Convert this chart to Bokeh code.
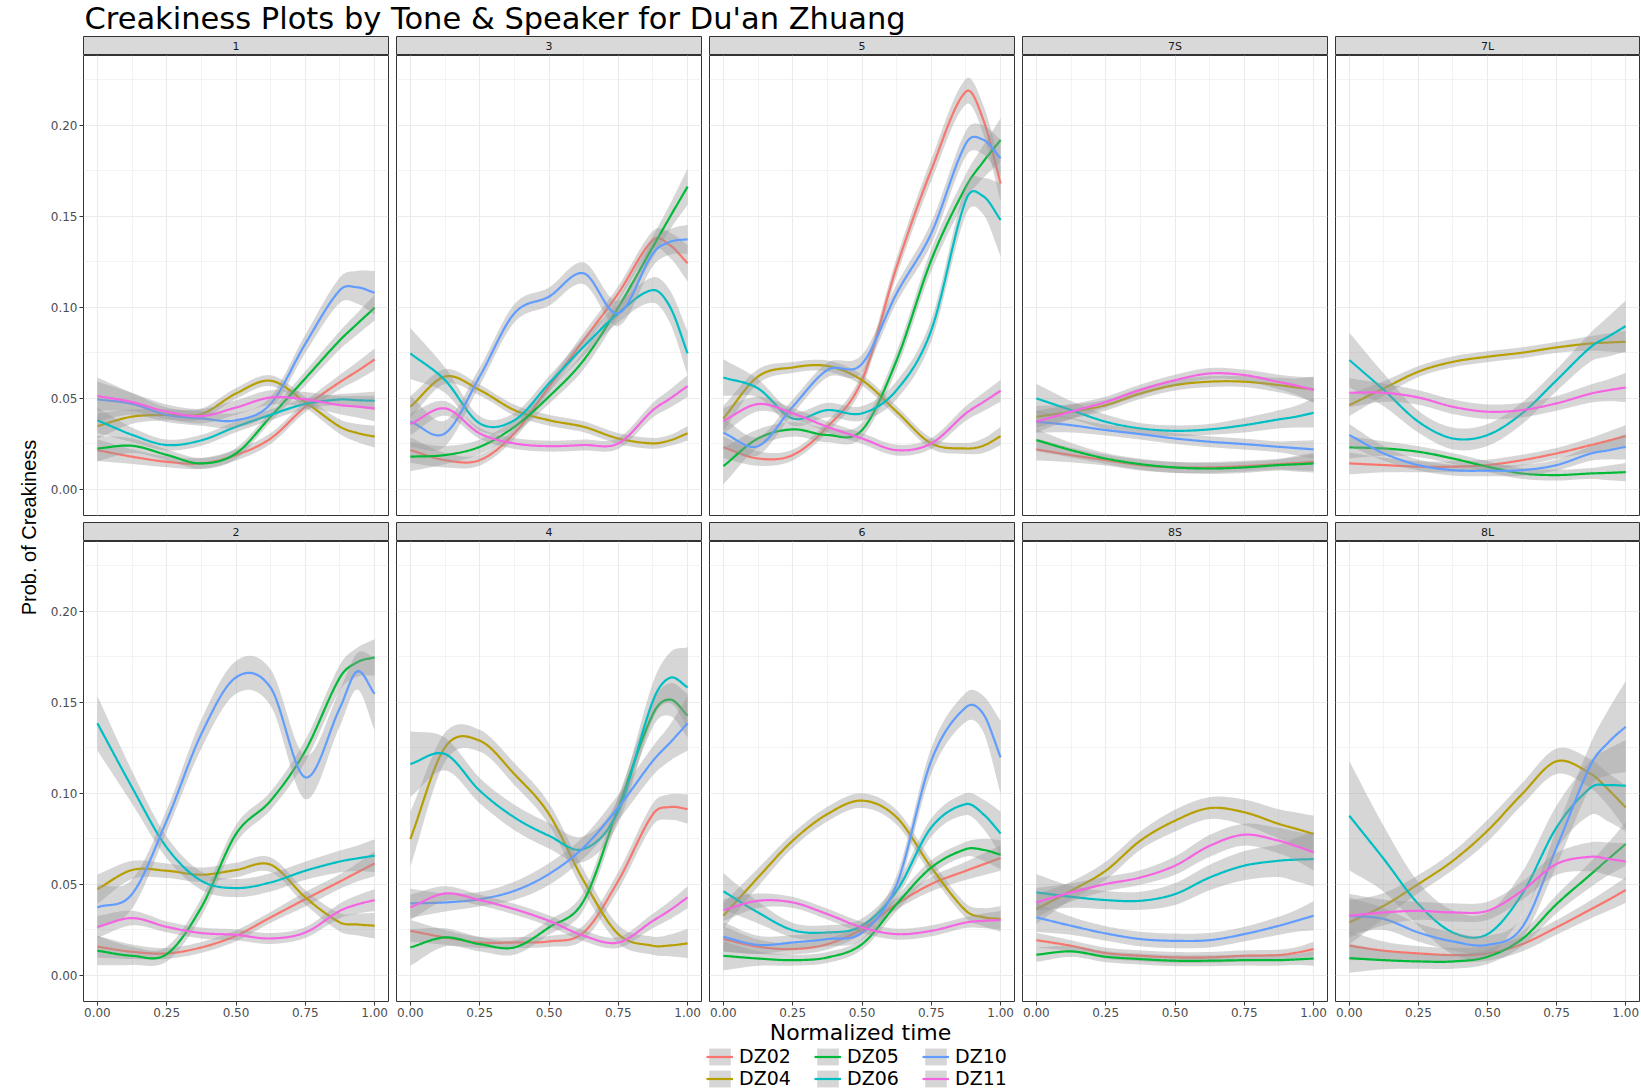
import numpy as np
from bokeh.plotting import figure
from bokeh.models import (Range1d, FixedTicker, NumeralTickFormatter, Label,
                          Legend, LegendItem)
from bokeh.layouts import row, column
from bokeh.embed import file_html
from bokeh.resources import INLINE

# ---------------- data ----------------
TITLE = "Creakiness Plots by Tone & Speaker for Du'an Zhuang"
X_LABEL = "Normalized time"
Y_LABEL = "Prob. of Creakiness"
SPEAKERS = ["DZ02", "DZ04", "DZ05", "DZ06", "DZ10", "DZ11"]
TONES_TOP = ["1", "3", "5", "7S", "7L"]
TONES_BOTTOM = ["2", "4", "6", "8S", "8L"]
KNOTS = [0.0, 0.125, 0.25, 0.375, 0.5, 0.625, 0.75, 0.875, 0.9375, 1.0]
X_TICKS = [0.0, 0.25, 0.5, 0.75, 1.0]
X_MINOR = [0.125, 0.375, 0.625, 0.875]
Y_TICKS = [0.0, 0.05, 0.10, 0.15, 0.20]
Y_MINOR = [0.025, 0.075, 0.125, 0.175, 0.225]

TONE_1 = {
    "DZ02": [0.0216, 0.018, 0.0152, 0.0143, 0.0189, 0.028, 0.0454, 0.059, 0.065, 0.0714],
    "DZ04": [0.0348, 0.040, 0.041, 0.0414, 0.0527, 0.0597, 0.048, 0.0344, 0.031, 0.029],
    "DZ05": [0.0225, 0.024, 0.019, 0.0143, 0.0198, 0.040, 0.061, 0.082, 0.091, 0.0998],
    "DZ06": [0.038, 0.030, 0.0244, 0.027, 0.0344, 0.041, 0.047, 0.0494, 0.049, 0.0487],
    "DZ10": [0.0495, 0.047, 0.041, 0.039, 0.038, 0.047, 0.080, 0.1095, 0.111, 0.108],
    "DZ11": [0.0513, 0.048, 0.0427, 0.0403, 0.045, 0.0505, 0.0495, 0.0463, 0.0455, 0.0445],
}
TONE_3 = {
    "DZ02": [0.0216, 0.0161, 0.0161, 0.0308, 0.0564, 0.082, 0.1077, 0.137, 0.134, 0.1242],
    "DZ04": [0.0454, 0.062, 0.0546, 0.0436, 0.038, 0.0344, 0.028, 0.0253, 0.027, 0.0308],
    "DZ05": [0.018, 0.0189, 0.0234, 0.0344, 0.051, 0.071, 0.100, 0.1333, 0.150, 0.1663],
    "DZ06": [0.0747, 0.060, 0.0363, 0.038, 0.0582, 0.0784, 0.0967, 0.1095, 0.100, 0.0747],
    "DZ10": [0.0372, 0.0308, 0.062, 0.0967, 0.1059, 0.1187, 0.0967, 0.1297, 0.136, 0.1374],
    "DZ11": [0.0359, 0.0445, 0.0308, 0.0253, 0.0238, 0.0244, 0.0253, 0.0436, 0.050, 0.0568],
}
TONE_5 = {
    "DZ02": [0.0231, 0.017, 0.0189, 0.0344, 0.060, 0.1223, 0.1755, 0.2185, 0.203, 0.168],
    "DZ04": [0.039, 0.062, 0.067, 0.0678, 0.060, 0.0427, 0.0253, 0.0225, 0.024, 0.0293],
    "DZ05": [0.0128, 0.028, 0.033, 0.0299, 0.0326, 0.071, 0.126, 0.1663, 0.180, 0.1919],
    "DZ06": [0.0615, 0.0555, 0.039, 0.0436, 0.0418, 0.0546, 0.0875, 0.159, 0.161, 0.148],
    "DZ10": [0.0311, 0.0238, 0.0454, 0.0656, 0.069, 0.1077, 0.1407, 0.190, 0.192, 0.1819],
    "DZ11": [0.0377, 0.0469, 0.0418, 0.0344, 0.028, 0.0216, 0.0253, 0.0418, 0.048, 0.0542],
}
TONE_7S = {
    "DZ02": [0.022, 0.0189, 0.0161, 0.0134, 0.0121, 0.0121, 0.0128, 0.0139, 0.0145, 0.0152],
    "DZ04": [0.0399, 0.0427, 0.0463, 0.0527, 0.0573, 0.0592, 0.0592, 0.0573, 0.056, 0.055],
    "DZ05": [0.0271, 0.0216, 0.017, 0.0139, 0.0121, 0.0115, 0.0121, 0.0134, 0.0138, 0.0143],
    "DZ06": [0.050, 0.0436, 0.0372, 0.0335, 0.0322, 0.033, 0.0353, 0.0385, 0.040, 0.0421],
    "DZ10": [0.0372, 0.0353, 0.0326, 0.0304, 0.028, 0.0262, 0.0249, 0.0234, 0.0227, 0.022],
    "DZ11": [0.0372, 0.0427, 0.048, 0.0546, 0.060, 0.0637, 0.0628, 0.059, 0.057, 0.0546],
}
TONE_7L = {
    "DZ02": [0.0143, 0.0134, 0.0125, 0.0125, 0.0134, 0.0161, 0.0198, 0.0244, 0.0268, 0.0293],
    "DZ04": [0.0463, 0.0555, 0.0647, 0.0701, 0.0729, 0.0751, 0.078, 0.0802, 0.0807, 0.0811],
    "DZ05": [0.0231, 0.0225, 0.0207, 0.017, 0.0125, 0.0088, 0.0079, 0.0088, 0.0091, 0.0095],
    "DZ06": [0.0711, 0.0546, 0.0372, 0.028, 0.0299, 0.0418, 0.060, 0.0784, 0.084, 0.0897],
    "DZ10": [0.0299, 0.0198, 0.0134, 0.0106, 0.0103, 0.0106, 0.0134, 0.0198, 0.0215, 0.0234],
    "DZ11": [0.0531, 0.0531, 0.0505, 0.0454, 0.0427, 0.0436, 0.0473, 0.0527, 0.0545, 0.056],
}
TONE_2 = {
    "DZ02": [0.0158, 0.013, 0.0121, 0.0154, 0.0218, 0.0319, 0.0419, 0.0516, 0.0566, 0.0615],
    "DZ04": [0.0474, 0.0579, 0.0575, 0.0553, 0.0579, 0.0608, 0.0429, 0.0291, 0.028, 0.0273],
    "DZ05": [0.0136, 0.0108, 0.0117, 0.0374, 0.0777, 0.096, 0.1234, 0.1637, 0.172, 0.1747],
    "DZ06": [0.1385, 0.1033, 0.0703, 0.052, 0.048, 0.0511, 0.0575, 0.0626, 0.0643, 0.0658],
    "DZ10": [0.0374, 0.0447, 0.085, 0.1326, 0.1637, 0.158, 0.1088, 0.147, 0.167, 0.1546],
    "DZ11": [0.0267, 0.0315, 0.0267, 0.0233, 0.0223, 0.0203, 0.0236, 0.0355, 0.039, 0.0414],
}
TONE_4 = {
    "DZ02": [0.0245, 0.0209, 0.0181, 0.0181, 0.0187, 0.0236, 0.052, 0.0886, 0.0925, 0.0914],
    "DZ04": [0.0749, 0.1253, 0.1289, 0.1106, 0.0886, 0.052, 0.0227, 0.0163, 0.0165, 0.0176],
    "DZ05": [0.0154, 0.0209, 0.0172, 0.0154, 0.0264, 0.041, 0.0923, 0.1436, 0.1515, 0.1427],
    "DZ06": [0.1161, 0.1216, 0.1015, 0.0868, 0.0767, 0.0694, 0.0905, 0.1509, 0.1635, 0.1582],
    "DZ10": [0.0396, 0.0401, 0.0419, 0.0465, 0.0557, 0.0703, 0.0923, 0.1179, 0.128, 0.1385],
    "DZ11": [0.0374, 0.045, 0.0414, 0.0364, 0.030, 0.0218, 0.0181, 0.030, 0.036, 0.0429],
}
TONE_6 = {
    "DZ02": [0.020, 0.0158, 0.0145, 0.0172, 0.0255, 0.0392, 0.0502, 0.0575, 0.061, 0.0645],
    "DZ04": [0.0328, 0.0538, 0.074, 0.0886, 0.096, 0.0868, 0.0593, 0.0355, 0.032, 0.031],
    "DZ05": [0.0108, 0.0093, 0.0084, 0.0099, 0.0172, 0.0392, 0.0593, 0.0694, 0.069, 0.0663],
    "DZ06": [0.0462, 0.0346, 0.0249, 0.0236, 0.0273, 0.0465, 0.0813, 0.0941, 0.0886, 0.078],
    "DZ10": [0.0212, 0.0168, 0.0181, 0.020, 0.0236, 0.050, 0.118, 0.1473, 0.1436, 0.1198],
    "DZ11": [0.0359, 0.041, 0.0401, 0.0337, 0.0264, 0.0227, 0.0245, 0.0291, 0.030, 0.0304],
}
TONE_8S = {
    "DZ02": [0.0194, 0.0163, 0.0123, 0.0108, 0.0099, 0.0099, 0.0108, 0.0112, 0.0125, 0.0145],
    "DZ04": [0.0364, 0.0465, 0.0575, 0.074, 0.085, 0.0919, 0.0896, 0.0832, 0.0805, 0.0777],
    "DZ05": [0.0114, 0.0132, 0.0103, 0.009, 0.0081, 0.0081, 0.0084, 0.0084, 0.0088, 0.0093],
    "DZ06": [0.0456, 0.0432, 0.0414, 0.041, 0.0447, 0.0538, 0.0603, 0.063, 0.0636, 0.0639],
    "DZ10": [0.0319, 0.0273, 0.0231, 0.020, 0.019, 0.0194, 0.0227, 0.0273, 0.030, 0.0328],
    "DZ11": [0.0401, 0.0456, 0.0502, 0.0538, 0.0603, 0.0712, 0.0773, 0.074, 0.071, 0.0676],
}
TONE_8L = {
    "DZ02": [0.0163, 0.0136, 0.0121, 0.0112, 0.0121, 0.0172, 0.0264, 0.0364, 0.0415, 0.0469],
    "DZ04": [0.0291, 0.0383, 0.0502, 0.063, 0.0795, 0.0996, 0.1176, 0.1106, 0.102, 0.0923],
    "DZ05": [0.0095, 0.0084, 0.0077, 0.0077, 0.0103, 0.020, 0.0392, 0.0557, 0.064, 0.0722],
    "DZ06": [0.0877, 0.0639, 0.0392, 0.0236, 0.0227, 0.0447, 0.0813, 0.1033, 0.1045, 0.1042],
    "DZ10": [0.0328, 0.031, 0.0236, 0.0187, 0.0168, 0.0264, 0.0703, 0.1161, 0.128, 0.1366],
    "DZ11": [0.0328, 0.0346, 0.0355, 0.0346, 0.0355, 0.0465, 0.0612, 0.0652, 0.064, 0.0626],
}

# half-widths of the confidence ribbons, in thousandths
SE_1 = {
    "DZ02": [6, 4, 3, 3, 3, 3, 3, 4, 5, 6],
    "DZ04": [7, 4, 3, 3, 3, 3, 3, 4, 5, 6],
    "DZ05": [7, 4, 3, 3, 3, 3, 4, 5, 6, 7],
    "DZ06": [7, 4, 3, 3, 3, 3, 3, 3, 4, 5],
    "DZ10": [12, 6, 4, 4, 4, 4, 5, 7, 9, 12],
    "DZ11": [8, 5, 4, 4, 4, 4, 4, 5, 6, 7],
}
SE_3 = {
    "DZ02": [7, 4, 3, 3, 3, 4, 4, 5, 7, 10],
    "DZ04": [6, 4, 3, 3, 3, 3, 3, 3, 3, 4],
    "DZ05": [8, 5, 4, 4, 4, 5, 5, 6, 7, 10],
    "DZ06": [14, 7, 4, 4, 4, 5, 5, 7, 9, 12],
    "DZ10": [14, 7, 5, 5, 5, 6, 7, 7, 7, 8],
    "DZ11": [6, 4, 3, 3, 3, 3, 3, 4, 5, 6],
}
SE_5 = {
    "DZ02": [6, 4, 3, 3, 4, 5, 6, 7, 8, 10],
    "DZ04": [7, 4, 3, 3, 3, 3, 3, 3, 4, 5],
    "DZ05": [10, 5, 4, 4, 4, 5, 6, 7, 9, 12],
    "DZ06": [10, 5, 4, 4, 4, 5, 6, 8, 10, 20],
    "DZ10": [8, 5, 4, 4, 5, 5, 6, 7, 8, 10],
    "DZ11": [7, 4, 3, 3, 3, 3, 3, 4, 5, 6],
}
SE_7S = {
    "DZ02": [6, 4, 3, 3, 3, 3, 3, 3, 4, 5],
    "DZ04": [6, 4, 3, 3, 3, 3, 3, 4, 5, 7],
    "DZ05": [6, 4, 3, 3, 3, 3, 3, 3, 4, 5],
    "DZ06": [8, 5, 4, 3, 3, 3, 4, 5, 6, 8],
    "DZ10": [6, 4, 3, 3, 3, 3, 3, 3, 4, 5],
    "DZ11": [6, 4, 3, 3, 3, 3, 3, 4, 5, 7],
}
SE_7L = {
    "DZ02": [6, 4, 3, 3, 3, 3, 3, 4, 5, 6],
    "DZ04": [6, 4, 3, 3, 3, 3, 3, 4, 5, 6],
    "DZ05": [6, 4, 3, 3, 3, 3, 3, 3, 4, 5],
    "DZ06": [15, 9, 6, 6, 6, 6, 6, 8, 11, 14],
    "DZ10": [6, 4, 3, 3, 3, 3, 3, 4, 5, 7],
    "DZ11": [8, 5, 4, 4, 4, 4, 4, 5, 6, 8],
}
SE_2 = {
    "DZ02": [6, 4, 3, 3, 3, 3, 4, 4, 5, 7],
    "DZ04": [8, 5, 4, 4, 4, 4, 4, 5, 6, 7],
    "DZ05": [8, 5, 4, 5, 5, 5, 6, 7, 8, 10],
    "DZ06": [15, 9, 6, 5, 5, 5, 5, 6, 7, 9],
    "DZ10": [12, 8, 6, 8, 9, 10, 12, 10, 10, 20],
    "DZ11": [6, 4, 3, 3, 3, 3, 3, 4, 5, 6],
}
SE_4 = {
    "DZ02": [6, 4, 3, 3, 3, 4, 5, 6, 7, 8],
    "DZ04": [15, 8, 6, 6, 6, 6, 5, 5, 6, 8],
    "DZ05": [10, 5, 4, 4, 4, 5, 6, 7, 9, 12],
    "DZ06": [18, 9, 7, 7, 7, 7, 7, 10, 14, 22],
    "DZ10": [8, 5, 4, 5, 6, 6, 7, 8, 10, 15],
    "DZ11": [7, 4, 3, 3, 3, 3, 3, 4, 5, 6],
}
SE_6 = {
    "DZ02": [7, 4, 3, 3, 3, 3, 4, 5, 6, 7],
    "DZ04": [7, 5, 4, 4, 4, 4, 4, 4, 5, 7],
    "DZ05": [8, 4, 3, 3, 3, 4, 4, 4, 6, 8],
    "DZ06": [10, 6, 4, 4, 4, 4, 5, 6, 8, 12],
    "DZ10": [8, 5, 4, 4, 4, 5, 7, 8, 10, 20],
    "DZ11": [6, 4, 3, 3, 3, 3, 3, 3, 4, 5],
}
SE_8S = {
    "DZ02": [4, 3, 3, 3, 3, 3, 3, 3, 3, 4],
    "DZ04": [8, 5, 5, 5, 6, 6, 7, 8, 9, 10],
    "DZ05": [4, 3, 3, 3, 3, 3, 3, 3, 3, 4],
    "DZ06": [10, 6, 5, 5, 6, 7, 8, 9, 12, 15],
    "DZ10": [8, 5, 4, 4, 4, 4, 4, 5, 6, 8],
    "DZ11": [8, 5, 4, 4, 5, 6, 6, 7, 8, 10],
}
SE_8L = {
    "DZ02": [8, 5, 4, 4, 4, 4, 4, 5, 6, 7],
    "DZ04": [12, 7, 5, 5, 6, 6, 7, 8, 9, 12],
    "DZ05": [8, 5, 4, 4, 4, 4, 5, 7, 9, 12],
    "DZ06": [30, 18, 12, 12, 12, 12, 12, 15, 20, 25],
    "DZ10": [10, 6, 5, 5, 5, 6, 10, 12, 18, 25],
    "DZ11": [12, 7, 5, 5, 5, 5, 6, 8, 9, 10],
}

CURVES = {"1": TONE_1, "3": TONE_3, "5": TONE_5, "7S": TONE_7S, "7L": TONE_7L,
          "2": TONE_2, "4": TONE_4, "6": TONE_6, "8S": TONE_8S, "8L": TONE_8L}
BANDS = {"1": SE_1, "3": SE_3, "5": SE_5, "7S": SE_7S, "7L": SE_7L,
         "2": SE_2, "4": SE_4, "6": SE_6, "8S": SE_8S, "8L": SE_8L}

# ---------------- styles / geometry ----------------
COLORS = {"DZ02": "#F8766D", "DZ04": "#B79F00", "DZ05": "#00BA38",
          "DZ06": "#00BFC4", "DZ10": "#619CFF", "DZ11": "#F564E3"}
FONT = "DejaVu Sans"
FRAME_H = 460
STRIP_H = 19
ROW_GAP = 7
AXIS_H = 20
TITLE_H = 36
YLAB_W = 47
BOT_H = 69
Y_LO, Y_HI = -0.0143, 0.2383


def smooth(xk, yk, n=240):
    """Cubic Hermite curve through the read knots (for drawing only)."""
    xk = np.asarray(xk, float)
    yk = np.asarray(yk, float)
    m = np.empty_like(yk)
    m[1:-1] = (yk[2:] - yk[:-2]) / (xk[2:] - xk[:-2])
    m[0] = (yk[1] - yk[0]) / (xk[1] - xk[0])
    m[-1] = (yk[-1] - yk[-2]) / (xk[-1] - xk[-2])
    xs = np.linspace(xk[0], xk[-1], n)
    idx = np.clip(np.searchsorted(xk, xs, side="right") - 1, 0, len(xk) - 2)
    h = xk[idx + 1] - xk[idx]
    t = (xs - xk[idx]) / h
    h00 = 2 * t**3 - 3 * t**2 + 1
    h10 = t**3 - 2 * t**2 + t
    h01 = -2 * t**3 + 3 * t**2
    h11 = t**3 - t**2
    ys = h00 * yk[idx] + h10 * h * m[idx] + h01 * yk[idx + 1] + h11 * h * m[idx + 1]
    return xs, ys


def geom(col):
    """(border_left, frame_width, border_right) of a facet column."""
    if col == 0:
        return 36, 305, 4
    if col == 4:
        return 4, 304, 1
    return 4, 305, 4


def make_strip(tone, col):
    left, fw, right = geom(col)
    s = figure(frame_width=fw, frame_height=STRIP_H,
               x_range=Range1d(0, 1), y_range=Range1d(0, 1),
               x_axis_location=None, y_axis_location=None,
               min_border_left=left, min_border_right=right,
               min_border_top=0, min_border_bottom=0,
               toolbar_location=None, output_backend="svg",
               background_fill_color="#D9D9D9", border_fill_color="white",
               outline_line_color="#333333", outline_line_width=1)
    s.grid.visible = False
    s.add_layout(Label(x=0.5, y=0.5, text=tone, text_align="center",
                       text_baseline="middle", text_font=FONT,
                       text_font_size="11px", text_color="#1A1A1A"))
    return s


def make_panel(tone, col, bottom):
    left, fw, right = geom(col)
    p = figure(frame_width=fw, frame_height=FRAME_H,
               x_range=Range1d(-0.05, 1.05), y_range=Range1d(Y_LO, Y_HI),
               x_axis_location="below" if bottom else None,
               y_axis_location="left" if col == 0 else None,
               min_border_left=left, min_border_right=right,
               min_border_top=0, min_border_bottom=AXIS_H if bottom else ROW_GAP,
               toolbar_location=None, output_backend="svg",
               background_fill_color="white", border_fill_color="white",
               outline_line_color="#333333", outline_line_width=1)
    p.xgrid.ticker = FixedTicker(ticks=X_TICKS, minor_ticks=X_MINOR)
    p.ygrid.ticker = FixedTicker(ticks=Y_TICKS, minor_ticks=Y_MINOR)
    for g in (p.xgrid, p.ygrid):
        g.grid_line_color = "#EBEBEB"
        g.grid_line_width = 1.1
        g.minor_grid_line_color = "#EBEBEB"
        g.minor_grid_line_width = 0.6
    axes = []
    if bottom:
        ax = p.xaxis[0]
        ax.ticker = FixedTicker(ticks=X_TICKS)
        axes.append(ax)
    if col == 0:
        ay = p.yaxis[0]
        ay.ticker = FixedTicker(ticks=Y_TICKS)
        axes.append(ay)
    for a in axes:
        a.formatter = NumeralTickFormatter(format="0.00")
        a.axis_line_color = None
        a.major_tick_line_color = "#333333"
        a.major_tick_out = 4
        a.major_tick_in = 0
        a.minor_tick_line_color = None
        a.major_label_text_font = FONT
        a.major_label_text_font_size = "12px"
        a.major_label_text_color = "#4D4D4D"
        a.major_label_standoff = 2

    curves = CURVES[tone]
    bands = BANDS[tone]
    for spk in SPEAKERS:
        xs, ys = smooth(KNOTS, curves[spk])
        _, se = smooth(KNOTS, np.asarray(bands[spk], float) / 1000.0)
        p.varea(x=xs, y1=ys - se, y2=ys + se, fill_color="#999999", fill_alpha=0.4)
        p.line(x=xs, y=ys, line_color=COLORS[spk], line_width=2.2)
    return p


strips_top = [make_strip(t, i) for i, t in enumerate(TONES_TOP)]
panels_top = [make_panel(t, i, False) for i, t in enumerate(TONES_TOP)]
strips_bot = [make_strip(t, i) for i, t in enumerate(TONES_BOTTOM)]
panels_bot = [make_panel(t, i, True) for i, t in enumerate(TONES_BOTTOM)]

TOTAL_W = YLAB_W + sum(sum(geom(c)) for c in range(5))
GRID_H = STRIP_H + FRAME_H + ROW_GAP + STRIP_H + FRAME_H + AXIS_H


def blank(w, h):
    f = figure(width=w, height=h, x_range=Range1d(0, w), y_range=Range1d(0, h),
               x_axis_location=None, y_axis_location=None, min_border=0,
               toolbar_location=None, output_backend="svg", outline_line_color=None)
    f.grid.visible = False
    return f


# title
tfig = blank(TOTAL_W, TITLE_H)
tfig.add_layout(Label(x=84, y=TITLE_H - 18, text=TITLE, text_font=FONT,
                      text_font_size="30.5px", text_color="black", text_baseline="middle"))

# y label
yfig = blank(YLAB_W, GRID_H)
yfig.add_layout(Label(x=28, y=GRID_H - 491, text=Y_LABEL, angle=np.pi / 2,
                      text_align="center", text_baseline="middle",
                      text_font="Liberation Sans", text_font_size="20px", text_color="black"))

# bottom: x label + legend
bfig = blank(TOTAL_W, BOT_H)
bfig.add_layout(Label(x=860, y=BOT_H - 11, text=X_LABEL, text_align="center",
                      text_baseline="middle", text_font=FONT,
                      text_font_size="22px", text_color="black"))
items = []
for spk in SPEAKERS:
    r1 = bfig.patch(x=[-60, -50, -50], y=[-60, -60, -50], fill_color="#999999",
                    fill_alpha=0.4, line_color=None)
    r2 = bfig.line(x=[-60, -50], y=[-60, -60], line_color=COLORS[spk], line_width=2.2)
    items.append(LegendItem(label=spk, renderers=[r1, r2]))
legend = Legend(items=items, location=(706, 1), orientation="vertical", nrows=2,
                glyph_width=27, glyph_height=21, label_height=18, label_width=75,
                label_standoff=6, spacing=0, padding=0, margin=0,
                border_line_color=None, background_fill_alpha=0,
                label_text_font=FONT, label_text_font_size="19px",
                label_text_color="black")
bfig.add_layout(legend)

grid = column(row(*strips_top), row(*panels_top), row(*strips_bot), row(*panels_bot))
layout = column(tfig, row(yfig, grid), bfig)

open("out.html", "w").write(file_html(layout, INLINE))
